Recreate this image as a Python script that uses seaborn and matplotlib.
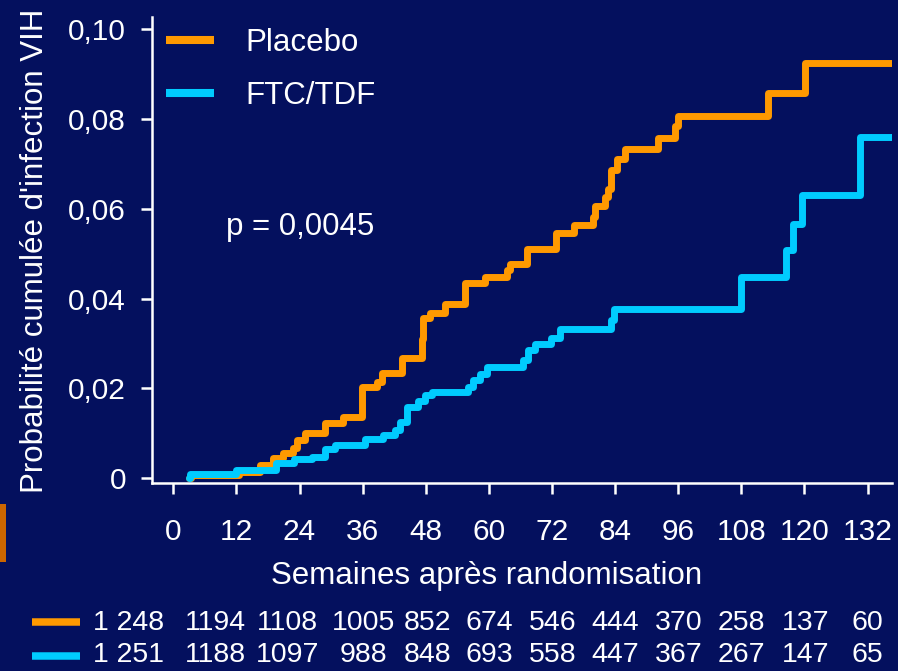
import matplotlib
matplotlib.use('Agg')
import matplotlib.pyplot as plt
import seaborn as sns
import pandas as pd
from matplotlib.lines import Line2D
from matplotlib.patches import Rectangle
from matplotlib.transforms import blended_transform_factory

# ---------------- data ----------------
weeks_placebo = [3.0, 3.4, 12.5, 16.4, 19.0, 20.9, 22.8, 23.5, 25.0, 28.8, 32.3, 35.8,
                 38.7, 39.6, 43.4, 47.2, 47.5, 48.8, 51.7, 55.5, 59.3, 63.4, 64.0, 67.2,
                 72.7, 76.1, 79.8, 80.2, 82.1, 82.7, 83.3, 84.3, 85.9, 92.2, 95.4, 96.0,
                 113.0, 120.1, 136.6]
risk_placebo = [0.0, 0.0008, 0.0015, 0.0030, 0.0045, 0.0056, 0.0067, 0.0085, 0.0100, 0.0122,
                0.0137, 0.0204, 0.0215, 0.0234, 0.0267, 0.0311, 0.0356, 0.0368, 0.0389,
                0.0434, 0.0448, 0.0463, 0.0478, 0.0510, 0.0546, 0.0564, 0.0582, 0.0606,
                0.0627, 0.0645, 0.0686, 0.0710, 0.0732, 0.0757, 0.0784, 0.0806, 0.0857,
                0.0924, 0.0924]

weeks_ftc = [3.0, 3.2, 12.0, 19.6, 23.0, 26.3, 28.8, 30.7, 36.4, 39.9, 42.1, 43.1, 44.4,
             46.6, 47.8, 49.1, 56.1, 57.0, 58.3, 59.6, 66.5, 67.5, 68.8, 71.9, 73.6, 83.2,
             83.8, 107.9, 116.5, 117.8, 119.5, 130.5, 136.6]
risk_ftc = [0.0, 0.0009, 0.0018, 0.0035, 0.0043, 0.0048, 0.0065, 0.0074, 0.0087, 0.0096,
            0.0107, 0.0126, 0.0159, 0.0173, 0.0185, 0.0193, 0.0203, 0.0218, 0.0233, 0.0248,
            0.0263, 0.0285, 0.0300, 0.0313, 0.0333, 0.0352, 0.0376, 0.0448, 0.0508, 0.0567,
            0.0630, 0.0759, 0.0759]

series_names = ['Placebo', 'FTC/TDF']
x_ticks = [0, 12, 24, 36, 48, 60, 72, 84, 96, 108, 120, 132]
y_ticks = [0, 0.02, 0.04, 0.06, 0.08, 0.10]
y_tick_labels = ['0', '0,02', '0,04', '0,06', '0,08', '0,10']

at_risk_placebo = ['1 248', '1194', '1108', '1005', '852', '674', '546', '444', '370', '258', '137', '60']
at_risk_ftc = ['1 251', '1188', '1097', '988', '848', '693', '558', '447', '367', '267', '147', '65']
at_risk_cols = [-8.5, 8.1, 21.7, 36.1, 48.3, 60, 72.2, 84.1, 96.1, 108.1, 120.3, 132]

# ---------------- style ----------------
BG = '#04105E'
ORANGE = '#FF9900'
CYAN = '#00CCFF'
sns.set_style('white', rc={'axes.facecolor': BG, 'figure.facecolor': BG,
                           'xtick.bottom': True, 'ytick.left': True})
plt.rcParams['font.family'] = ['Liberation Sans', 'DejaVu Sans']

W, H = 898, 671
fig = plt.figure(figsize=(W / 100, H / 100), dpi=100, facecolor=BG)
ax_l, ax_r, ax_t, ax_b = 152.3, 891.7, 16.7, 483.3
ax = fig.add_axes([ax_l / W, 1 - ax_b / H, (ax_r - ax_l) / W, (ax_b - ax_t) / H])
ax.set_facecolor(BG)

df_p = pd.DataFrame({'week': weeks_placebo, 'risk': risk_placebo})
df_f = pd.DataFrame({'week': weeks_ftc, 'risk': risk_ftc})
line_kw = dict(drawstyle='steps-post', estimator=None, sort=False, lw=5.0,
               solid_joinstyle='round', solid_capstyle='round', legend=False)
sns.lineplot(data=df_p, x='week', y='risk', color=ORANGE, ax=ax, zorder=3, **line_kw)
sns.lineplot(data=df_f, x='week', y='risk', color=CYAN, ax=ax, zorder=4, **line_kw)

ax.set_xlim(-4, 136.6)
ax.set_ylim(-0.00111, 0.10274)
ax.set_xticks(x_ticks)
ax.set_xticklabels([str(t) for t in x_ticks])
ax.set_yticks(y_ticks)
ax.set_yticklabels(y_tick_labels)

for s in ['top', 'right']:
    ax.spines[s].set_visible(False)
for s in ['left', 'bottom']:
    ax.spines[s].set_color('white')
    ax.spines[s].set_linewidth(1.8)

ax.tick_params(axis='both', colors='white', labelcolor='white', labelsize=21.5,
               length=8, width=1.8, direction='out', bottom=True, left=True)
ax.tick_params(axis='x', pad=17)
ax.tick_params(axis='y', pad=11)

ax.set_xlabel('Semaines après randomisation', fontsize=22.5, color='white', va='center')
ax.xaxis.set_label_coords((486.5 - ax_l) / (ax_r - ax_l), (ax_b - 576) / (ax_b - ax_t))
ax.set_ylabel("Probabilité cumulée d'infection VIH", fontsize=22.5, color='white', va='center')
ax.yaxis.set_label_coords((35 - ax_l) / (ax_r - ax_l), (ax_b - 251) / (ax_b - ax_t))

handles = [Line2D([], [], color=ORANGE, lw=5.8, solid_capstyle='butt'),
           Line2D([], [], color=CYAN, lw=5.8, solid_capstyle='butt')]
leg = ax.legend(handles, series_names, loc='upper left',
                bbox_to_anchor=(166 / W, 1 - 28 / H), bbox_transform=fig.transFigure,
                frameon=False, fontsize=22.5, handlelength=1.55, handletextpad=1.0,
                labelspacing=0.72, borderpad=0, borderaxespad=0)
for t in leg.get_texts():
    t.set_color('white')

fig.text(226 / W, 1 - 227 / H, 'p = 0,0045', ha='left', va='center', fontsize=22.5, color='white')

# at-risk table
trans = blended_transform_factory(ax.transData, fig.transFigure)
rows = [(at_risk_placebo, ORANGE, 623, 622), (at_risk_ftc, CYAN, 655, 656)]
for labels, col, ty, ly in rows:
    fig.add_artist(Line2D([32 / W, 80 / W], [1 - ly / H, 1 - ly / H], color=col, lw=5.4,
                          solid_capstyle='butt', transform=fig.transFigure))
    for xw, lab in zip(at_risk_cols, labels):
        ax.text(xw, 1 - ty / H, lab, transform=trans, ha='center', va='center',
                fontsize=20.5, color='white', clip_on=False)

# decorative side bar
fig.add_artist(Rectangle((0, 1 - 562 / H), 6 / W, 58 / H, transform=fig.transFigure,
                         color='#CC6600', lw=0))

fig.savefig('out.png', dpi=100, facecolor=BG)
